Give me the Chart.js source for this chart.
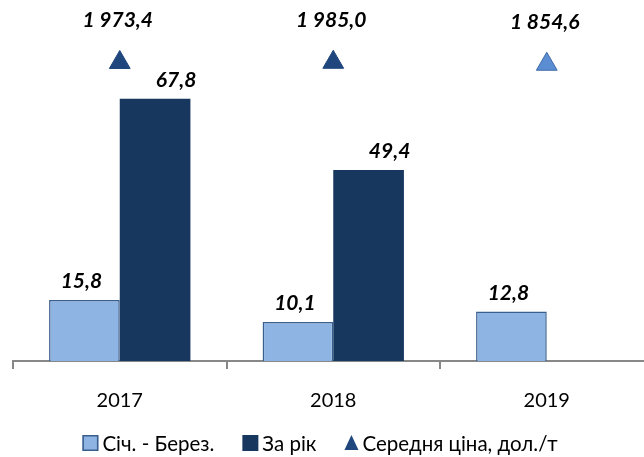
<!DOCTYPE html>
<html>
<head>
<meta charset="utf-8">
<script src="https://cdn.jsdelivr.net/npm/chart.js@4.4.1/dist/chart.umd.min.js"></script>
<style>
  html, body { margin: 0; padding: 0; background: #fff; }
  #wrap { width: 644px; height: 457px; overflow: hidden; position: relative; }
  #exportChart { position: absolute; left: 0; top: 0; }
</style>
</head>
<body>
<div id="wrap"><canvas id="exportChart" width="668" height="457"></canvas></div>
<script>
const years = ['2017', '2018', '2019'];
const q1Values = [15.8, 10.1, 12.8];       // Січ. - Берез.
const yearValues = [67.8, 49.4, null];     // За рік
const avgPrice = [1973.4, 1985.0, 1854.6]; // Середня ціна, дол./т

const FONT = 'Lato, "Noto Sans", sans-serif';
const LIGHT = '#8EB4E3';
const LIGHT_EDGE = '#3A5F8C';
const DARK = '#17375E';
const MARKER = '#1F477E';

function fmt(v) {
  const parts = v.toFixed(1).split('.');
  const int = parts[0].replace(/\B(?=(\d{3})+(?!\d))/g, ' ');
  return int + ',' + parts[1];
}

// value labels above bars and markers
const valueLabels = {
  id: 'valueLabels',
  afterDatasetsDraw(chart) {
    const { ctx } = chart;
    ctx.save();
    ctx.font = 'italic bold 21px ' + FONT;
    ctx.fillStyle = '#000';
    ctx.textAlign = 'center';
    ctx.textBaseline = 'middle';
    chart.data.datasets.forEach((ds, i) => {
      const meta = chart.getDatasetMeta(i);
      meta.data.forEach((el, j) => {
        const v = ds.data[j];
        if (v == null) return;
        ctx.fillText(fmt(v), el.x + (ds.labelDx || 0), el.y - ds.labelDy);
      });
    });
    ctx.restore();
  }
};

// legend row under the axis: square / square / triangle keys
const keyLegend = {
  id: 'keyLegend',
  afterDraw(chart) {
    const { ctx } = chart;
    const cy = 443;
    const centerX = 320;
    ctx.save();
    ctx.font = '20.5px ' + FONT;
    ctx.textBaseline = 'middle';
    const items = chart.data.datasets.map((ds) => ({
      text: ds.label,
      key: ds.type === 'line' ? 'triangle' : 'rect',
      fill: ds.legendFill,
      edge: ds.legendEdge,
      w: ds.type === 'line' ? 14 : 16,
      gap: 4
    }));
    const itemGap = 28;
    let total = 0;
    items.forEach((it, k) => {
      it.tw = ctx.measureText(it.text).width;
      total += it.w + it.gap + it.tw + (k ? itemGap : 0);
    });
    let x = centerX - total / 2;
    items.forEach((it, k) => {
      if (k) x += itemGap;
      ctx.fillStyle = it.fill;
      ctx.strokeStyle = it.edge;
      if (it.key === 'rect') {
        ctx.fillRect(x, cy - 8, it.w, 16);
        if (it.edge) {
          ctx.lineWidth = 1.5;
          ctx.strokeRect(x + 0.75, cy - 7.25, it.w - 1.5, 14.5);
        }
      } else {
        ctx.beginPath();
        ctx.moveTo(x + it.w / 2, cy - 8);
        ctx.lineTo(x + it.w, cy + 7);
        ctx.lineTo(x, cy + 7);
        ctx.closePath();
        ctx.fill();
      }
      x += it.w + it.gap;
      ctx.fillStyle = '#000';
      ctx.fillText(it.text, x, cy + 1);
      x += it.tw;
    });
    ctx.restore();
  }
};

new Chart(document.getElementById('exportChart'), {
  type: 'bar',
  data: {
    labels: years,
    datasets: [
      {
        label: 'Січ. - Берез.',
        data: q1Values,
        backgroundColor: LIGHT,
        borderColor: LIGHT_EDGE,
        borderWidth: 1.5,
        borderSkipped: 'bottom',
        legendFill: LIGHT,
        legendEdge: LIGHT_EDGE,
        labelDx: -3,
        labelDy: 18.5
      },
      {
        label: 'За рік',
        data: yearValues,
        backgroundColor: DARK,
        borderWidth: 0,
        legendFill: DARK,
        labelDx: 21,
        labelDy: 19
      },
      {
        type: 'line',
        label: 'Середня ціна, дол./т',
        data: avgPrice,
        yAxisID: 'y2',
        showLine: false,
        clip: false,
        pointStyle: 'triangle',
        pointRadius: 12,
        pointHoverRadius: 12,
        pointBackgroundColor: [MARKER, MARKER, '#5B8DD3'],
        pointBorderColor: [MARKER, MARKER, '#3F6AA8'],
        pointBorderWidth: 1,
        legendFill: MARKER,
        labelDx: -2,
        labelDy: 42
      }
    ]
  },
  options: {
    responsive: false,
    animation: false,
    layout: { padding: { left: 10, right: 14.5, top: 51.6, bottom: 24 } },
    datasets: {
      bar: { barPercentage: 1, categoryPercentage: 0.662 }
    },
    scales: {
      x: {
        grid: {
          drawOnChartArea: false,
          drawTicks: true,
          tickLength: 8,
          color: '#888',
          lineWidth: 2
        },
        border: { display: true, color: '#888', width: 2 },
        ticks: {
          color: '#000',
          padding: 20,
          font: { family: FONT, size: 20 }
        }
      },
      y: {
        display: false,
        min: 0,
        max: 80
      },
      y2: {
        display: false,
        min: -18000,
        max: 2700
      }
    },
    plugins: {
      legend: { display: false },
      tooltip: { enabled: false }
    }
  },
  plugins: [valueLabels, keyLegend]
});
</script>
</body>
</html>
